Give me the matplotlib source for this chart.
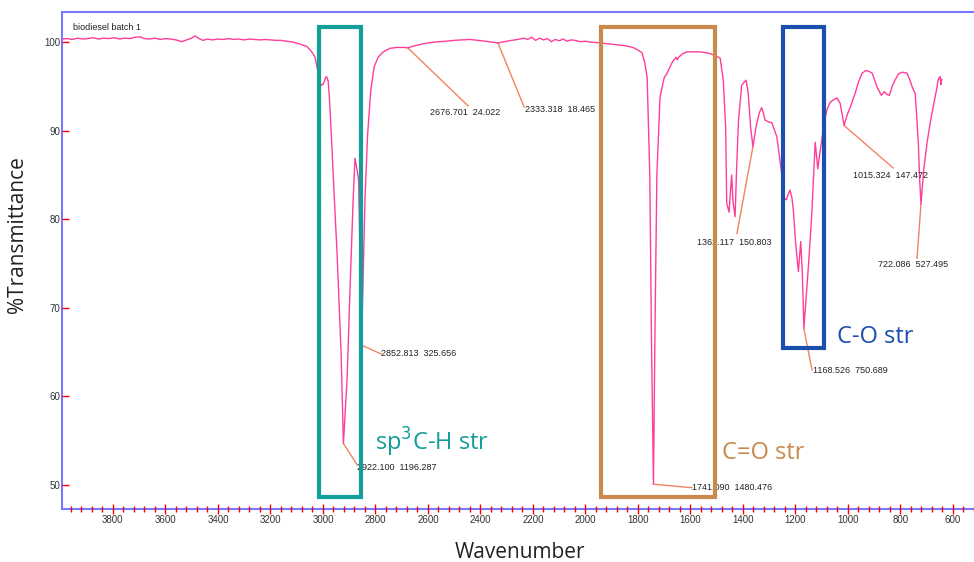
import matplotlib
matplotlib.use("Agg")
import matplotlib.pyplot as plt
from matplotlib.patches import Rectangle
from matplotlib.ticker import MultipleLocator

# spectrum (wavenumber / %T)
wavenumber = [3994, 3975, 3955, 3935, 3915, 3895, 3875, 3855, 3835, 3815, 3795,
              3775, 3755, 3735, 3715, 3697, 3680, 3660, 3640, 3620, 3600, 3580,
              3560, 3537, 3515, 3500, 3487, 3472, 3457, 3440, 3420, 3400, 3380,
              3360, 3340, 3320, 3300, 3280, 3260, 3240, 3220, 3200, 3180, 3160,
              3140, 3114, 3090, 3061, 3045, 3030, 3023, 3015, 3007, 2998, 2990,
              2986, 2980, 2975, 2967, 2960, 2946, 2931, 2922, 2908, 2897, 2885,
              2878, 2870, 2864, 2853, 2840, 2830, 2818, 2805, 2790, 2770, 2745,
              2718, 2690, 2677, 2650, 2620, 2590, 2560, 2530, 2500, 2470, 2440,
              2410, 2380, 2355, 2333, 2310, 2290, 2270, 2250, 2235, 2220, 2205,
              2190, 2175, 2160, 2145, 2130, 2115, 2100, 2085, 2070, 2055, 2040,
              2020, 2000, 1980, 1960, 1940, 1910, 1880, 1850, 1819, 1800, 1785,
              1775, 1765, 1755, 1748, 1741, 1735, 1728, 1716, 1700, 1689, 1670,
              1655, 1650, 1645, 1630, 1613, 1590, 1564, 1540, 1525, 1500, 1487,
              1475, 1466, 1462, 1453, 1448, 1443, 1438, 1430, 1424, 1417, 1405,
              1395, 1388, 1380, 1371, 1362, 1350, 1338, 1329, 1322, 1316, 1303,
              1290, 1271, 1254, 1243, 1235, 1228, 1221, 1214, 1208, 1200, 1189,
              1180, 1174, 1168, 1160, 1151, 1138, 1125, 1115, 1107, 1100, 1090,
              1081, 1068, 1055, 1042, 1030, 1020, 1015, 1003, 992, 973, 960,
              946, 931, 920, 908, 896, 889, 873, 862, 852, 842, 832, 821,
              808, 794, 775, 764, 755, 744, 738, 732, 727, 722, 712, 699,
              690, 680, 670, 661, 657, 652, 649, 646, 643]
transmittance = [100.35, 100.40, 100.30, 100.45, 100.35, 100.40, 100.50, 100.35, 100.45, 100.40, 100.50,
                 100.35, 100.45, 100.40, 100.55, 100.60, 100.40, 100.35, 100.45, 100.30, 100.40, 100.35,
                 100.25, 100.05, 100.30, 100.45, 100.70, 100.40, 100.20, 100.35, 100.25, 100.35, 100.30,
                 100.40, 100.30, 100.35, 100.25, 100.35, 100.30, 100.25, 100.30, 100.25, 100.20, 100.20,
                 100.10, 100.00, 99.80, 99.50, 99.00, 98.30, 97.20, 96.00, 95.10, 95.30, 96.00,
                 96.10, 95.60, 93.50, 88.90, 84.40, 76.00, 65.00, 54.70, 62.00, 72.00, 82.20,
                 86.90, 85.60, 84.40, 65.80, 82.20, 89.50, 94.50, 97.20, 98.30, 98.90, 99.30,
                 99.40, 99.40, 99.35, 99.60, 99.80, 99.95, 100.05, 100.10, 100.20, 100.25, 100.30,
                 100.20, 100.10, 100.00, 99.90, 100.05, 100.15, 100.25, 100.35, 100.45, 100.30, 100.55,
                 100.20, 100.45, 100.25, 100.40, 100.05, 100.30, 100.15, 100.35, 100.10, 100.25, 100.20,
                 100.05, 100.10, 100.00, 99.95, 99.90, 99.80, 99.70, 99.60, 99.40, 99.10, 98.80,
                 97.80, 96.00, 85.00, 65.00, 50.10, 68.00, 85.00, 93.80, 96.00, 96.50, 97.70,
                 98.30, 98.00, 98.30, 98.70, 98.90, 98.90, 98.90, 98.80, 98.70, 98.40, 98.20,
                 95.70, 90.40, 81.80, 80.80, 83.00, 85.00, 82.00, 80.30, 86.00, 91.20, 95.10,
                 95.50, 95.70, 94.20, 90.40, 88.20, 90.50, 92.00, 92.60, 92.00, 91.20, 91.00,
                 90.90, 89.30, 85.50, 82.40, 82.20, 82.80, 83.30, 82.50, 81.00, 77.50, 74.10,
                 77.50, 74.00, 67.70, 71.00, 74.60, 80.50, 88.70, 85.70, 87.50, 88.90, 91.00,
                 92.30, 93.20, 93.50, 93.70, 93.10, 91.50, 90.60, 91.80, 92.60, 94.20, 95.50,
                 96.50, 96.80, 96.70, 96.50, 95.50, 94.90, 94.00, 94.40, 94.10, 94.00, 95.00, 95.70,
                 96.40, 96.60, 96.50, 95.70, 94.90, 94.20, 91.50, 88.60, 84.50, 81.70, 85.50, 88.60,
                 90.30, 92.00, 93.50, 94.90, 95.70, 96.00, 96.10, 95.20, 95.80]

# picked peaks and their labels
peak_wn = [2922.100, 2852.813, 2676.701, 2333.318, 1741.090, 1362.117, 1168.526, 1015.324, 722.086]
peak_t = [54.7, 65.8, 99.35, 99.9, 50.1, 88.2, 67.7, 90.6, 81.7]
peak_labels = ["2922.100  1196.287", "2852.813  325.656", "2676.701  24.022",
               "2333.318  18.465", "1741.090  1480.476", "1362.117  150.803",
               "1168.526  750.689", "1015.324  147.472", "722.086  527.495"]

# band regions (wavenumber from, to, %T bottom, top) and names
band_names = ["sp$^3$C-H str", "C=O str", "C-O str"]
band_wn = [(3015, 2855), (1941, 1506), (1247, 1091)]
band_t = [(48.6, 101.7), (48.6, 101.7), (65.5, 101.7)]

# layout: leader end point and label anchor (left, centre) for each peak label
leader_end = [(2870, 52.3), (2779, 64.8), (2447, 92.8), (2234, 92.7), (1594, 49.7),
              (1423, 78.4), (1137, 63.0), (828, 85.8), (737, 75.6)]
label_pos = [(2870, 52.0), (2779, 64.8), (2592, 92.1), (2230, 92.4), (1594, 49.7),
             (1575, 77.4), (1133, 62.9), (981, 85.0), (885, 74.9)]
band_colors = ["#139e9a", "#c98a4e", "#1a4fae"]
band_text_pos = [(2802, 54.8), (1481, 53.6), (1040, 66.7)]

fig = plt.figure(figsize=(9.74, 5.62), dpi=100)
ax = fig.add_axes([62 / 974, 53 / 562, 912 / 974, 497 / 562])

ax.plot(wavenumber, transmittance, color="#ff3d9a", lw=1.0, zorder=3)

for (x0, y0), (x1, y1), (tx, ty), lab in zip(zip(peak_wn, peak_t), leader_end, label_pos, peak_labels):
    ax.plot([x0, x1], [y0, y1], color="#f08460", lw=1.0, zorder=2)
    ax.text(tx, ty, lab, fontsize=6.5, family="Liberation Sans", color="#222222",
            ha="left", va="center", zorder=4)

for (w0, w1), (t0, t1), c, name, (tx, ty) in zip(band_wn, band_t, band_colors, band_names, band_text_pos):
    ax.add_patch(Rectangle((w1, t0), w0 - w1, t1 - t0, fill=False, ec=c, lw=3.0, zorder=5, clip_on=False))
    ax.text(tx, ty, name, fontsize=17, family="Open Sans", color=c, ha="left", va="center")

ax.text(0.012, 0.968, "biodiesel batch 1", transform=ax.transAxes, fontsize=6.5,
        family="Liberation Sans", color="#222222", va="center")

ax.set_xlim(3994, 520)
ax.set_ylim(47.3, 103.4)
ax.xaxis.set_major_locator(MultipleLocator(200))
ax.xaxis.set_minor_locator(MultipleLocator(40))
ax.yaxis.set_major_locator(MultipleLocator(10))

ax.tick_params(axis="x", which="major", direction="inout", length=7, width=1, color="red",
               labelsize=7, labelcolor="#333333", pad=1)
ax.tick_params(axis="x", which="minor", direction="inout", length=4, width=1, color="red")
ax.tick_params(axis="y", which="major", direction="in", length=5, width=1, color="red",
               labelsize=7, labelcolor="#333333", pad=1)
for lab in ax.get_xticklabels() + ax.get_yticklabels():
    lab.set_family("Liberation Sans")

for side in ["left", "bottom", "top"]:
    ax.spines[side].set_color("#7878ff")
    ax.spines[side].set_linewidth(1.5)
    ax.spines[side].set_zorder(1)
ax.spines["right"].set_visible(False)

fig.text(18 / 974, 1 - 235 / 562, "%Transmittance", rotation=90, fontsize=15,
         family="Open Sans", color="#222222", ha="center", va="center")
fig.text(520 / 974, 1 - 553 / 562, "Wavenumber", fontsize=15, family="Open Sans",
         color="#222222", ha="center", va="center")

fig.savefig("out.png", dpi=100)
